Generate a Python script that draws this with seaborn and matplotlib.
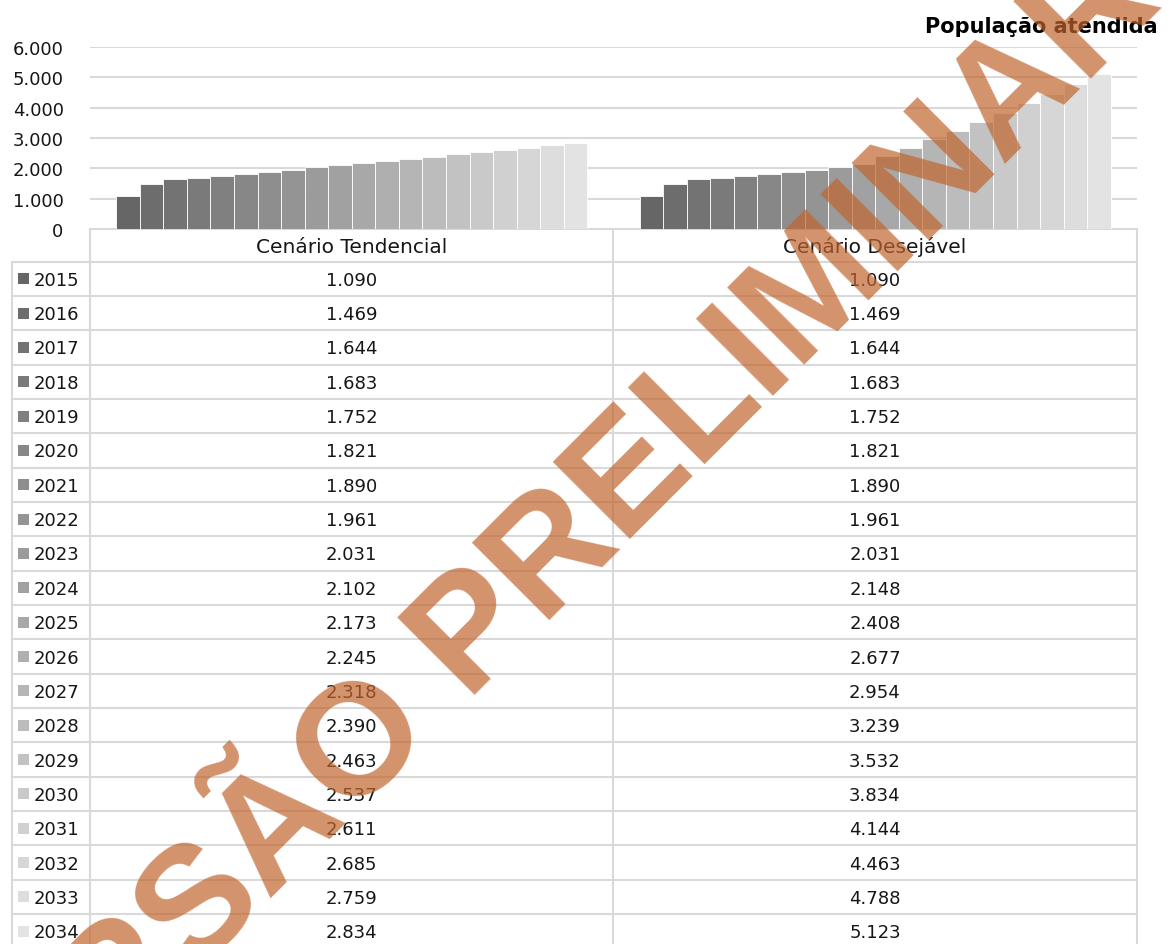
import matplotlib
matplotlib.use("Agg")
import matplotlib.pyplot as plt
import seaborn as sns
import pandas as pd
import numpy as np
from matplotlib.patches import Rectangle
from matplotlib.ticker import FuncFormatter

# ---------------- data ----------------
years = ["2015", "2016", "2017", "2018", "2019", "2020", "2021", "2022", "2023", "2024",
         "2025", "2026", "2027", "2028", "2029", "2030", "2031", "2032", "2033", "2034"]
scenarios = ["Cenário Tendencial", "Cenário Desejável"]
tendencial = [1090, 1469, 1644, 1683, 1752, 1821, 1890, 1961, 2031, 2102,
              2173, 2245, 2318, 2390, 2463, 2537, 2611, 2685, 2759, 2834]
desejavel = [1090, 1469, 1644, 1683, 1752, 1821, 1890, 1961, 2031, 2148,
             2408, 2677, 2954, 3239, 3532, 3834, 4144, 4463, 4788, 5123]
title = "População atendida"
watermark = "VERSÃO PRELIMINAR"
yticks = [0, 1000, 2000, 3000, 4000, 5000, 6000]

# ---------------- style ----------------
W, H = 1168, 945
sns.set_theme(style="white")
plt.rcParams["font.family"] = ["DejaVu Sans"]
fs = 13
grid_c = "#D9D9D9"
text_c = "#161616"
grays = [matplotlib.colors.to_hex(c) for c in
         plt.cm.gray(np.linspace(0.40, 0.89, len(years)))]

df = pd.DataFrame({
    "Cenário": [scenarios[0]] * len(years) + [scenarios[1]] * len(years),
    "Ano": years + years,
    "Pop": tendencial + desejavel,
})

fig = plt.figure(figsize=(W / 100, H / 100), dpi=100)

def fx(px):
    return px / W

def fy(py):
    return 1 - py / H

# layout (pixels)
L, R = 90, 1137
T, B = 48, 230
mid = 613
leg_left = 12
row0 = 262.5
row_h = 34.35

ax = fig.add_axes([fx(L), fy(B), fx(R) - fx(L), fy(T) - fy(B)])
sns.barplot(data=df, x="Cenário", y="Pop", hue="Ano", order=scenarios,
            hue_order=years, palette=grays, width=0.9, saturation=1,
            edgecolor="white", linewidth=0.6, legend=False, ax=ax, zorder=3)
ax.set_xlim(-0.5, 1.5)
ax.set_ylim(0, 6000)
ax.set_yticks(yticks)
ax.yaxis.set_major_formatter(FuncFormatter(lambda v, p: f"{int(v):,}".replace(",", ".")))
ax.tick_params(axis="y", length=0, pad=19, labelsize=fs, labelcolor=text_c)
ax.set_xticks([])
ax.set_xlabel("")
ax.set_ylabel("")
for s in ax.spines.values():
    s.set_visible(False)
ax.grid(axis="y", color=grid_c, linewidth=1.5, zorder=0)
ax.set_axisbelow(True)

# ---------------- data table ----------------
tab = fig.add_axes([0, 0, 1, 1], zorder=-1)
tab.set_xlim(0, W)
tab.set_ylim(H, 0)
tab.axis("off")
lw = 1.5
tab.plot([L, R], [B, B], color=grid_c, lw=lw)
for x in (L, mid, R):
    tab.plot([x, x], [B, H], color=grid_c, lw=lw)
tab.plot([leg_left, leg_left], [row0, H], color=grid_c, lw=lw)
for i in range(len(years) + 1):
    y = row0 + i * row_h
    tab.plot([leg_left, R], [y, y], color=grid_c, lw=lw)

col_centers = [(L + mid) / 2, (mid + R) / 2]
for cx, name in zip(col_centers, scenarios):
    tab.text(cx, (B + row0) / 2 + 1, name, ha="center", va="center",
             fontsize=14.5, color=text_c)

fmt = lambda v: f"{v:,}".replace(",", ".")
for i, yr in enumerate(years):
    cy = row0 + (i + 0.5) * row_h
    tab.add_patch(Rectangle((18, cy - 5.5), 11, 11, color=grays[i], lw=0))
    tab.text(34, cy + 1, yr, ha="left", va="center", fontsize=fs, color=text_c)
    tab.text(col_centers[0], cy + 1, fmt(tendencial[i]), ha="center", va="center",
             fontsize=fs, color=text_c)
    tab.text(col_centers[1], cy + 1, fmt(desejavel[i]), ha="center", va="center",
             fontsize=fs, color=text_c)

# ---------------- title ----------------
fig.text(fx(1158), fy(27), title, ha="right", va="center", fontsize=15,
         fontweight="bold", color="#000000")

# ---------------- watermark ----------------
fig.text(fx(564), fy(605), watermark, rotation=45, rotation_mode="anchor",
         ha="center", va="baseline", fontsize=114, fontweight="bold",
         family=["Liberation Sans", "DejaVu Sans"], color="#C0642D", alpha=0.7,
         zorder=10)

fig.savefig("out.png", dpi=100)
